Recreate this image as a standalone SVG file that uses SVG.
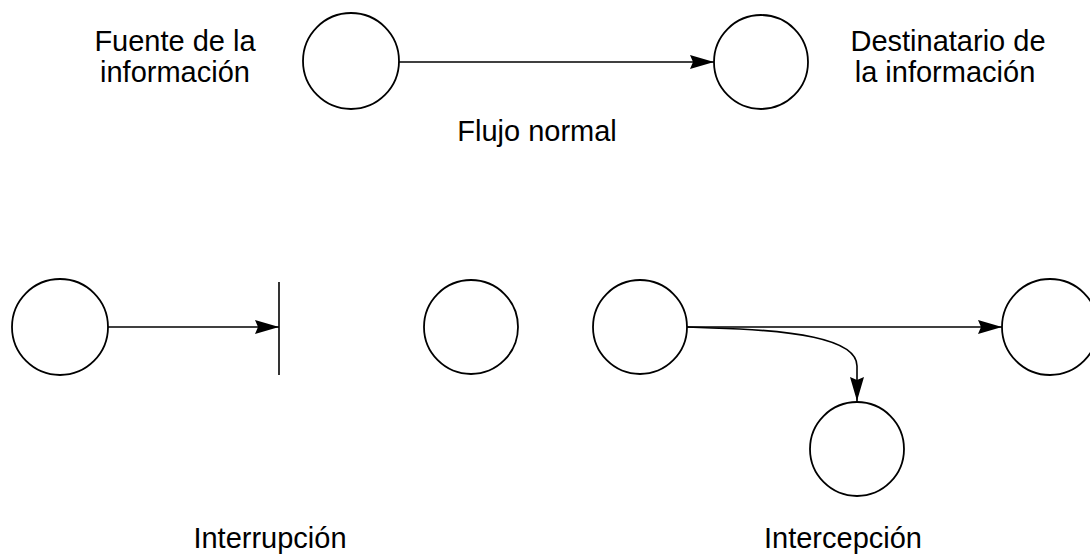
<svg xmlns="http://www.w3.org/2000/svg" width="1090" height="556" viewBox="0 0 1090 556">
  <style>
    .node circle { fill: #ffffff; stroke: #000000; stroke-width: 1.8; }
    .edge { fill: none; stroke: #000000; stroke-width: 1.6; }
    .label { font-family: "Liberation Sans", Arial, sans-serif; font-size: 29px; fill: #000000; }
  </style>
  <defs>
    <marker id="arrow" markerUnits="userSpaceOnUse" viewBox="0 0 24 14" refX="24" refY="7" markerWidth="24" markerHeight="14" orient="auto">
      <path d="M0,0 L24,7 L0,14 L3,7 z" fill="#000000"/>
    </marker>
  </defs>

  <rect width="1090" height="556" fill="#ffffff"/>

  <!-- connectors -->
  <g id="connectors">
    <!-- normal flow -->
    <line class="edge" x1="399" y1="62" x2="714" y2="62" marker-end="url(#arrow)"/>
    <!-- interruption -->
    <line class="edge" x1="108" y1="327" x2="279" y2="327" marker-end="url(#arrow)"/>
    <line class="edge" x1="279" y1="282" x2="279" y2="375"/>
    <!-- interception -->
    <line class="edge" x1="687" y1="327" x2="1002" y2="327" marker-end="url(#arrow)"/>
    <path class="edge" d="M687,327 L712,328 C790,330 857,338 857,366 L857,401" marker-end="url(#arrow)"/>
  </g>

  <!-- normal flow nodes -->
  <g id="fuente" class="node"><circle cx="351" cy="61" r="48"/></g>
  <g id="destino" class="node"><circle cx="761" cy="62" r="47"/></g>

  <!-- interruption nodes -->
  <g id="int-fuente" class="node"><circle cx="60" cy="327" r="48"/></g>
  <g id="int-destino" class="node"><circle cx="471" cy="327" r="47"/></g>

  <!-- interception nodes -->
  <g id="icp-fuente" class="node"><circle cx="640" cy="327" r="47"/></g>
  <g id="icp-destino" class="node"><circle cx="1050" cy="327" r="48"/></g>
  <g id="icp-intruso" class="node"><circle cx="857" cy="449" r="47"/></g>

  <!-- labels -->
  <g id="labels">
    <text class="label" x="175" y="51" text-anchor="middle">Fuente de la</text>
    <text class="label" x="175" y="82" text-anchor="middle">información</text>
    <text class="label" x="948" y="51" text-anchor="middle">Destinatario de</text>
    <text class="label" x="945" y="82" text-anchor="middle">la información</text>
    <text class="label" x="537" y="141" text-anchor="middle">Flujo normal</text>
    <text class="label" x="270" y="548" text-anchor="middle">Interrupción</text>
    <text class="label" x="843" y="548" text-anchor="middle">Intercepción</text>
  </g>
</svg>
